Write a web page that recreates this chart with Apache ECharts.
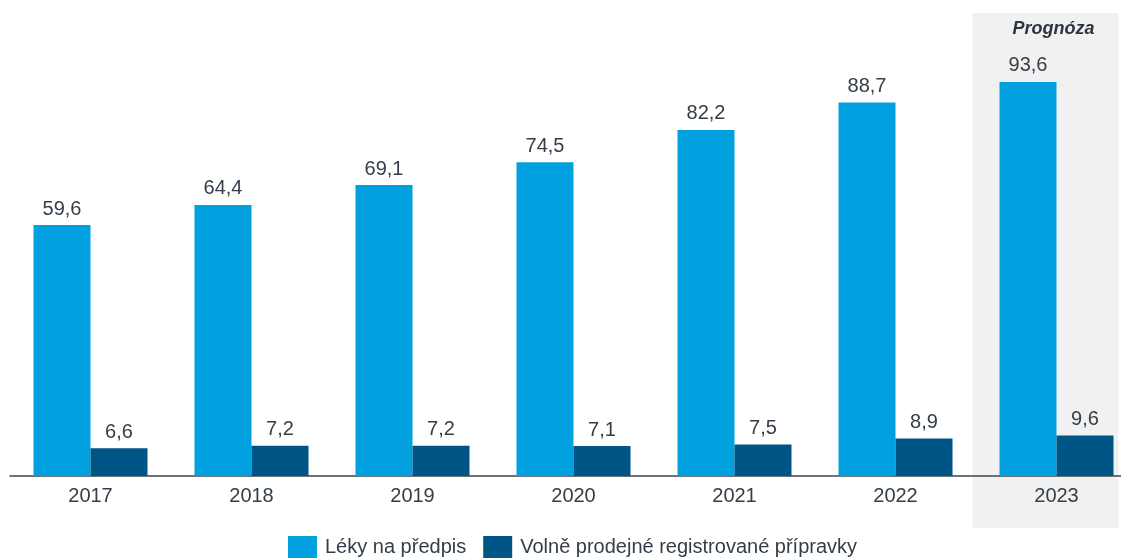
<!DOCTYPE html>
<html>
<head>
<meta charset="utf-8">
<script src="https://cdn.jsdelivr.net/npm/echarts@6/dist/echarts.min.js"></script>
<style>
  html, body {margin: 0; padding: 0; background: #fff; overflow: hidden;}
  #chart {width: 1137px; height: 559px;}
</style>
</head>
<body>
<div id="chart"></div>
<script>
var years = ['2017', '2018', '2019', '2020', '2021', '2022', '2023'];
var lekyNaPredpis = [59.6, 64.4, 69.1, 74.5, 82.2, 88.7, 93.6];
var volneProdejne = [6.6, 7.2, 7.2, 7.1, 7.5, 8.9, 9.6];
var seriesNames = ['Léky na předpis', 'Volně prodejné registrované přípravky'];
var forecastYear = '2023';
var forecastText = 'Prognóza';

var textColor = '#333e48';
var fontFamily = 'Liberation Sans, Arial, sans-serif';

var chart = echarts.init(document.getElementById('chart'));

function fmt(v) {
    return String(v.toFixed(1)).replace('.', ',');
}

var labelOpt = {
    show: true, position: 'top', distance: 6,
    fontSize: 20, color: textColor, fontFamily: fontFamily,
    formatter: function (p) { return fmt(p.value); }
};

chart.setOption({
    animation: false,
    textStyle: {fontFamily: fontFamily},
    grid: {left: 10, top: 55, right: 0, bottom: 83},
    legend: {
        top: 536, left: 288, padding: 0,
        itemWidth: 29, itemHeight: 22, itemGap: 17,
        icon: 'rect',
        textStyle: {fontSize: 20, color: textColor, fontFamily: fontFamily, padding: [0, 0, 0, 3]},
        data: seriesNames
    },
    xAxis: {
        type: 'category', data: years,
        axisLine: {lineStyle: {color: '#3d4650', width: 1.5}},
        axisTick: {show: false},
        axisLabel: {fontSize: 20, color: textColor, margin: 10, fontFamily: fontFamily}
    },
    yAxis: {
        type: 'value', min: 0, max: 100,
        show: false
    },
    series: [
        {name: seriesNames[0], type: 'bar', data: lekyNaPredpis, barWidth: 57, barGap: 0,
            itemStyle: {color: '#00a1de'}, label: labelOpt},
        {name: seriesNames[1], type: 'bar', data: volneProdejne, barWidth: 57, barGap: 0,
            itemStyle: {color: '#005587'}, label: labelOpt}
    ]
});

// šedé pozadí pro prognózu
var cx = chart.convertToPixel({xAxisIndex: 0}, forecastYear);
chart.setOption({
    graphic: [
        {type: 'rect', z: -10, silent: true,
            shape: {x: cx - 84, y: 13, width: 146, height: 515},
            style: {fill: '#f1f1f1'}},
        {type: 'text', z: 10, silent: true,
            x: cx - 3, y: 20,
            style: {text: forecastText, fill: '#2d3640', font: 'italic bold 18px ' + fontFamily, textAlign: 'center'}}
    ]
});
</script>
</body>
</html>
